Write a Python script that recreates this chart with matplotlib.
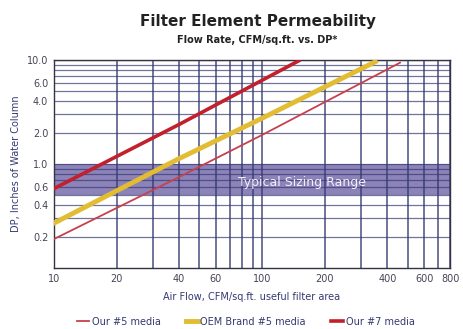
import numpy as np
import matplotlib
matplotlib.use("Agg")
from matplotlib import pyplot as plt
from matplotlib.ticker import FixedLocator, NullFormatter

# data
our5_x = [10, 40, 100, 460]
our5_y = [0.19, 0.75, 1.9, 9.4]
oem5_x = [10, 39, 100, 350]
oem5_y = [0.27, 1.1, 2.75, 9.6]
our7_x = [10, 40, 150]
our7_y = [0.58, 2.4, 9.8]

x_ticks = [10, 20, 40, 60, 100, 200, 400, 600, 800]
y_ticks = [0.2, 0.4, 0.6, 1.0, 2.0, 4.0, 6.0, 10.0]
x_grid = [10, 20, 30, 40, 50, 60, 70, 80, 90, 100, 200, 300, 400, 500, 600, 700, 800]
y_grid = [0.2, 0.3, 0.4, 0.5, 0.6, 0.7, 0.8, 0.9, 1, 2, 3, 4, 5, 6, 7, 8, 9, 10]
band = (0.5, 1.0)

navy = '#353a72'
fig = plt.figure(figsize=(4.64, 3.29), dpi=100)
ax = fig.add_axes([0.116, 0.185, 0.854, 0.633])
ax.set_xscale('log')
ax.set_yscale('log')
ax.set_xlim(10, 800)
ax.set_ylim(0.1, 10)

# grid
for gx in x_grid:
    ax.axvline(gx, color=navy, lw=1.1, alpha=0.9, zorder=2)
for gy in y_grid:
    ax.axhline(gy, color=navy, lw=0.9, alpha=0.7, zorder=2)

# typical sizing range
ax.axhspan(band[0], band[1], color='#7064a8', alpha=0.8, zorder=1, lw=0)
ax.text(155, 0.66, 'Typical Sizing Range', color='#f2eef8', fontsize=9,
        ha='center', va='center', zorder=3)

ax.plot(our5_x, our5_y, color='#c8404c', lw=1.3, zorder=4, label='Our #5 media')
ax.plot(oem5_x, oem5_y, color='#e2bc32', lw=3.5, zorder=4, label='OEM Brand #5 media')
ax.plot(our7_x, our7_y, color='#c2202c', lw=2.6, zorder=5, label='Our #7 media')

ax.xaxis.set_major_locator(FixedLocator(x_ticks))
ax.xaxis.set_minor_formatter(NullFormatter())
ax.xaxis.set_minor_locator(FixedLocator([]))
ax.set_xticklabels([str(t) for t in x_ticks])
ax.yaxis.set_major_locator(FixedLocator(y_ticks))
ax.yaxis.set_minor_locator(FixedLocator([]))
ax.yaxis.set_minor_formatter(NullFormatter())
ax.set_yticklabels(['%.1f' % t for t in y_ticks])
ax.tick_params(length=0, labelsize=7, labelcolor='#444455', pad=4)

for s in ax.spines.values():
    s.set_color('#333344')
    s.set_linewidth(1.0)

ax.set_ylabel('DP, Inches of Water Column', fontsize=7, color=navy, labelpad=4)
ax.set_xlabel('Air Flow, CFM/sq.ft. useful filter area', fontsize=7, color=navy, labelpad=6)

fig.text(0.555, 0.935, 'Filter Element Permeability', fontsize=11, fontweight='bold',
         ha='center', va='center', color='#222222')
fig.text(0.555, 0.878, 'Flow Rate, CFM/sq.ft. vs. DP*', fontsize=7, fontweight='bold',
         ha='center', va='center', color='#222222')

fig.legend(loc='lower center', bbox_to_anchor=(0.53, -0.02), ncol=3, frameon=False,
           fontsize=7, handlelength=1.2, handletextpad=0.3, columnspacing=2.6,
           labelcolor=navy)

fig.savefig('out.png', dpi=100)
plt.close()
